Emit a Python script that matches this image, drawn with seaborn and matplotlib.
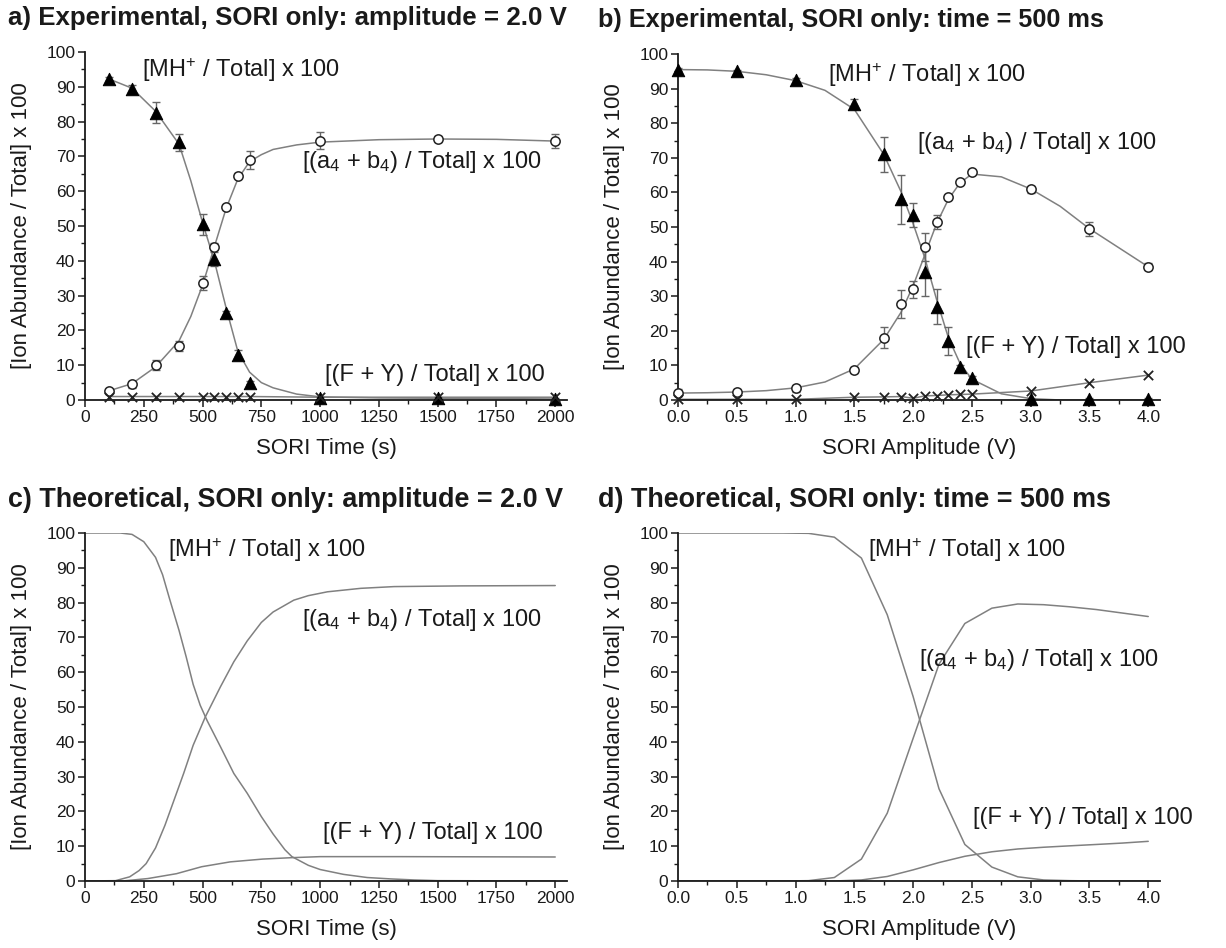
import matplotlib
matplotlib.use("Agg")
import matplotlib.pyplot as plt
import seaborn as sns
from matplotlib.ticker import MultipleLocator, AutoMinorLocator

sns.set_theme(style="ticks")
plt.rcParams['font.family'] = ['Liberation Sans', 'DejaVu Sans']
plt.rcParams['mathtext.fontset'] = 'custom'
plt.rcParams['mathtext.rm'] = 'Liberation Sans'
plt.rcParams['mathtext.it'] = 'Liberation Sans:italic'

# ---- a) experimental, amplitude = 2.0 V ----
time_pts = [100, 200, 300, 400, 500, 550, 600, 650, 700, 1000, 1500, 2000]
a_mh = [92.2, 89.5, 82.5, 74, 50.5, 40.5, 25, 13, 5, 0.5, 0.5, 0.3]
a_mh_err = [0.5, 1, 3, 2.5, 3, 2, 0.5, 1.5, 0.5, 0.3, 0.3, 0.3]
a_ab = [2.7, 4.5, 10, 15.5, 33.5, 44, 55.5, 64.5, 69, 74.5, 75, 74.5]
a_ab_err = [0.5, 1, 1.5, 1.5, 2, 1, 0.5, 0.8, 2.5, 2.5, 1, 2]
a_fy = [1, 1, 1, 1, 1, 1, 1, 1, 1, 0.8, 0.8, 0.8]
# fitted curves
a_fit_t = [100, 200, 300, 400, 450, 500, 550, 600, 650, 700, 750, 800, 900, 1000, 1250, 1500, 1750, 2000]
a_mh_fit = [92.3, 89.6, 83, 73.5, 63, 51, 40, 26.5, 14, 8, 5, 3.5, 1.7, 0.9, 0.6, 0.5, 0.4, 0.3]
a_ab_fit = [2.6, 4.7, 9.5, 17, 24, 33, 44, 55, 63.5, 68.5, 70.5, 72, 73.3, 74.1, 74.8, 75, 74.9, 74.4]

# ---- b) experimental, time = 500 ms ----
amp_pts = [0, 0.5, 1.0, 1.5, 1.75, 1.9, 2.0, 2.1, 2.2, 2.3, 2.4, 2.5, 3.0, 3.5, 4.0]
b_mh = [95.5, 95, 92.5, 85.5, 71, 58, 53.5, 37, 27, 17, 9.5, 6.5, 0.2, 0.2, 0.2]
b_mh_err = [0.5, 0.5, 0.5, 1.5, 5, 7, 3.5, 7, 5, 4, 0.5, 0.5, 0.3, 0.3, 0.3]
b_ab = [2.1, 2.4, 3.4, 8.7, 18, 27.7, 32, 44.3, 51.5, 58.8, 63, 66, 60.9, 49.4, 38.5]
b_ab_err = [1, 0.8, 1, 0.8, 3, 4, 2.5, 4, 2, 0.5, 0.5, 0.5, 1, 2, 1]
b_fy = [0.2, 0.2, 0.2, 0.8, 0.9, 1.0, 0.5, 1.2, 1.3, 1.5, 1.6, 1.7, 2.6, 5.0, 7.2]
b_fit_v = [0, 0.25, 0.5, 0.75, 1.0, 1.25, 1.5, 1.75, 1.9, 2.0, 2.1, 2.2, 2.3, 2.4, 2.5, 2.75, 3.0, 3.25, 3.5, 3.75, 4.0]
b_mh_fit = [95.5, 95.4, 95, 94, 92.3, 89.5, 84, 71, 60, 51, 41, 29, 18, 10.5, 6, 1.8, 0.4, 0, 0, 0, 0]
b_ab_fit = [2.0, 2.1, 2.3, 2.7, 3.5, 5.2, 9, 17.5, 25.5, 33, 42, 51, 58, 62.8, 65.3, 64.5, 61, 56, 49.5, 44, 38.5]

# ---- c) theoretical, amplitude = 2.0 V ----
c_t_mh = [0, 150, 200, 250, 300, 330, 360, 400, 430, 460, 490, 520, 576, 633, 690, 750, 800, 850, 880,
          950, 1000, 1100, 1200, 1300, 1400, 1500, 2000]
c_mh = [100, 100, 99.6, 97.5, 93, 88, 81, 72, 64.5, 56.5, 50.5, 46, 38.6, 30.9, 25.2, 18.5, 13.5, 9, 7,
        4.5, 3.3, 1.9, 1.0, 0.6, 0.3, 0.1, 0]
c_t_ab = [0, 130, 190, 230, 260, 300, 340, 380, 420, 460, 512, 576, 633, 690, 750, 800, 888, 950, 1031,
          1173, 1315, 1600, 2000]
c_ab = [0, 0.1, 1.2, 3, 5, 9.5, 16, 23.5, 31, 39, 47.2, 55.8, 63, 69, 74.3, 77.3, 80.7, 82, 83.1,
        84.1, 84.6, 84.8, 84.9]
c_t_fy = [0, 160, 267, 389, 496, 618, 756, 878, 1000, 1336, 2000]
c_fy = [0, 0, 0.7, 2.1, 4.1, 5.5, 6.3, 6.7, 7.0, 7.0, 6.9]

# ---- d) theoretical, time = 500 ms ----
d_v = [0, 0.22, 0.44, 0.67, 0.89, 1.11, 1.33, 1.56, 1.78, 2.0, 2.22, 2.44, 2.67, 2.89, 3.11, 3.33, 3.56, 3.78, 4.0]
d_mh = [100, 100, 100, 100, 100, 99.9, 98.8, 92.8, 76.5, 53, 26.5, 10.5, 4, 1.2, 0.3, 0.1, 0, 0, 0]
d_ab = [0, 0, 0, 0, 0, 0.1, 1.0, 6.3, 19.5, 41, 62.3, 74, 78.4, 79.6, 79.4, 78.8, 78, 77, 76]
d_fy = [0, 0, 0, 0, 0, 0, 0, 0.3, 1.3, 3.2, 5.3, 7.1, 8.4, 9.2, 9.7, 10.1, 10.5, 10.9, 11.4]

lbl_mh = "[MH$^{+}$ / Total] x 100"
lbl_ab = "[(a$_{4}$ + b$_{4}$) / Total] x 100"
lbl_fy = "[(F + Y) / Total] x 100"

line_c = "#808080"
ink = "#1a1a1a"

fig = plt.figure(figsize=(12.26, 9.48), dpi=100)
W, H = 1226, 948


def make_ax(left, top, right, bottom):
    return fig.add_axes([left / W, 1 - bottom / H, (right - left) / W, (bottom - top) / H])


ax_a = make_ax(85, 52, 567, 400)
ax_b = make_ax(678, 54, 1160, 400)
ax_c = make_ax(85, 533, 567, 881)
ax_d = make_ax(678, 533, 1160, 881)


def style(ax, kind):
    ax.set_ylim(0, 100)
    ax.yaxis.set_major_locator(MultipleLocator(10))
    ax.yaxis.set_minor_locator(AutoMinorLocator(2))
    if kind == "time":
        ax.set_xlim(0, 2050)
        ax.xaxis.set_major_locator(MultipleLocator(250))
        ax.set_xlabel("SORI Time (s)", fontsize=16, color=ink)
    else:
        ax.set_xlim(0, 4.1)
        ax.xaxis.set_major_locator(MultipleLocator(0.5))
        ax.xaxis.set_major_formatter(plt.FormatStrFormatter("%.1f"))
        ax.set_xlabel("SORI Amplitude (V)", fontsize=16, color=ink)
    ax.xaxis.set_minor_locator(AutoMinorLocator(2))
    ax.set_ylabel("[Ion Abundance / Total] x 100", fontsize=16, color=ink)
    ax.tick_params(which="major", direction="out", length=5, width=1.1, labelsize=12.5,
                   colors=ink, pad=2)
    ax.tick_params(which="minor", direction="out", length=3, width=1.0, colors=ink)
    sns.despine(ax=ax)
    for s in ("left", "bottom"):
        ax.spines[s].set_linewidth(1.3)
        ax.spines[s].set_color(ink)
    ax.xaxis.set_label_coords(0.5, -0.11)
    ax.yaxis.set_label_coords(-0.11, 0.5)
    ax.set_facecolor("white")


def exp_points(ax, x, mh, mh_err, ab, ab_err, fy):
    ax.errorbar(x, mh, yerr=mh_err, fmt="none", ecolor="#666666", elinewidth=1, capsize=3, zorder=2)
    ax.errorbar(x, ab, yerr=ab_err, fmt="none", ecolor="#666666", elinewidth=1, capsize=3, zorder=2)
    sns.scatterplot(x=x, y=mh, marker="^", s=80, color="black", edgecolor="black", ax=ax,
                    zorder=4, clip_on=False)
    sns.scatterplot(x=x, y=ab, marker="o", s=45, facecolor="white", edgecolor="#222222",
                    linewidth=1.1, ax=ax, zorder=4, clip_on=False)
    sns.scatterplot(x=x, y=fy, marker="x", s=45, color="#222222", linewidth=1.3, ax=ax,
                    zorder=4, clip_on=False)


# a
sns.lineplot(x=a_fit_t, y=a_mh_fit, color=line_c, lw=1.1, ax=ax_a)
sns.lineplot(x=a_fit_t, y=a_ab_fit, color=line_c, lw=1.1, ax=ax_a)
sns.lineplot(x=time_pts, y=a_fy, color=line_c, lw=1.1, ax=ax_a)
exp_points(ax_a, time_pts, a_mh, a_mh_err, a_ab, a_ab_err, a_fy)
style(ax_a, "time")
ax_a.text(243, 94.8, lbl_mh, fontsize=17, va="center", color=ink)
ax_a.text(923, 68.3, lbl_ab, fontsize=17, va="center", color=ink)
ax_a.text(1021, 7.2, lbl_fy, fontsize=17, va="center", color=ink)

# b
sns.lineplot(x=b_fit_v, y=b_mh_fit, color=line_c, lw=1.1, ax=ax_b)
sns.lineplot(x=b_fit_v, y=b_ab_fit, color=line_c, lw=1.1, ax=ax_b)
sns.lineplot(x=amp_pts, y=b_fy, color=line_c, lw=1.1, ax=ax_b)
exp_points(ax_b, amp_pts, b_mh, b_mh_err, b_ab, b_ab_err, b_fy)
style(ax_b, "amp")
ax_b.text(1.28, 94, lbl_mh, fontsize=17, va="center", color=ink)
ax_b.text(2.03, 74.3, lbl_ab, fontsize=17, va="center", color=ink)
ax_b.text(2.45, 15.3, lbl_fy, fontsize=17, va="center", color=ink)

# c
sns.lineplot(x=c_t_mh, y=c_mh, color=line_c, lw=1.1, ax=ax_c)
sns.lineplot(x=c_t_ab, y=c_ab, color=line_c, lw=1.1, ax=ax_c)
sns.lineplot(x=c_t_fy, y=c_fy, color=line_c, lw=1.1, ax=ax_c)
style(ax_c, "time")
ax_c.text(353, 95.1, lbl_mh, fontsize=17, va="center", color=ink)
ax_c.text(923, 75, lbl_ab, fontsize=17, va="center", color=ink)
ax_c.text(1013, 13.8, lbl_fy, fontsize=17, va="center", color=ink)

# d
sns.lineplot(x=d_v, y=d_mh, color=line_c, lw=1.1, ax=ax_d)
sns.lineplot(x=d_v, y=d_ab, color=line_c, lw=1.1, ax=ax_d)
sns.lineplot(x=d_v, y=d_fy, color=line_c, lw=1.1, ax=ax_d)
style(ax_d, "amp")
ax_d.text(1.62, 95.1, lbl_mh, fontsize=17, va="center", color=ink)
ax_d.text(2.05, 63.5, lbl_ab, fontsize=17, va="center", color=ink)
ax_d.text(2.51, 18.1, lbl_fy, fontsize=17, va="center", color=ink)

# panel titles
titles = [
    (8, 18, "a) Experimental, SORI only: amplitude = 2.0 V", 18.6),
    (598, 20, "b) Experimental, SORI only: time = 500 ms", 18.2),
    (8, 500, "c) Theoretical, SORI only: amplitude = 2.0 V", 19.4),
    (598, 500, "d) Theoretical, SORI only: time = 500 ms", 19.4),
]
for x, y, t, fs in titles:
    fig.text(x / W, 1 - y / H, t, fontsize=fs, fontweight="bold", ha="left", va="center", color=ink)

fig.savefig("out.png", dpi=100, facecolor="white")
